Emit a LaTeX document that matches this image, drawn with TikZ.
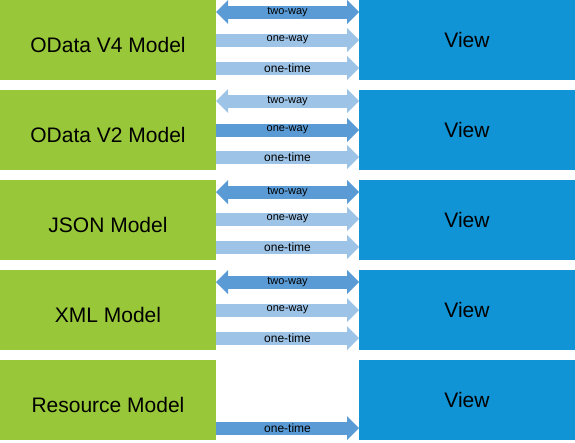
\documentclass[tikz,border=0pt]{standalone}
\usepackage{fontspec}
\setmainfont{Liberation Sans}
\usetikzlibrary{positioning, arrows.meta}

\definecolor{modelgreen}{RGB}{152,200,58}
\definecolor{viewblue}{RGB}{16,148,214}
\definecolor{binddark}{RGB}{91,155,213}
\definecolor{bindlight}{RGB}{157,195,230}

\tikzset{
  model/.style={fill=modelgreen, minimum width=216pt, minimum height=80pt, inner sep=0pt, outer sep=0pt,
    text height=25pt, text depth=0pt, font=\fontsize{21}{25}\selectfont},
  view/.style={fill=viewblue, minimum width=216pt, minimum height=80pt, inner sep=0pt, outer sep=0pt,
    font=\fontsize{21}{25}\selectfont},
  bind/.style={draw=bindlight, line width=13pt, -{Triangle[length=12pt,width=24pt,line width=0pt]}},
  both/.style={{Triangle[length=12pt,width=24pt,line width=0pt]}-{Triangle[length=12pt,width=24pt,line width=0pt]}},
  dark/.style={draw=binddark},
  lbl/.style={font=\fontsize{11}{12}\selectfont, text=black, inner sep=0pt},
  lblbig/.style={font=\fontsize{12}{13}\selectfont, text=black, inner sep=0pt}
}

\begin{document}
\begin{tikzpicture}[x=1pt, y=1pt]
\useasboundingbox (0,0) rectangle (575,-442);

% OData V4 model
\node[model] (v4) at (108,-40) {OData V4 Model};
\node[view, right=143pt of v4] (v4view) {View};
\draw[bind, both, dark] ([yshift=-12pt]v4.north east) -- ([yshift=-12pt]v4view.north west) node[lbl, midway] {two-way};
\draw[bind] ([yshift=-40pt]v4.north east) -- ([yshift=-40pt]v4view.north west) node[lbl, midway] {one-way};
\draw[bind] ([yshift=-68pt]v4.north east) -- ([yshift=-68pt]v4view.north west) node[lblbig, midway] {one-time};

% OData V2 model
\node[model, below=10pt of v4] (v2) {OData V2 Model};
\node[view, right=143pt of v2] (v2view) {View};
\draw[bind, both] ([yshift=-11pt]v2.north east) -- ([yshift=-11pt]v2view.north west) node[lbl, midway] {two-way};
\draw[bind, dark] ([yshift=-40pt]v2.north east) -- ([yshift=-40pt]v2view.north west) node[lbl, midway] {one-way};
\draw[bind] ([yshift=-67pt]v2.north east) -- ([yshift=-67pt]v2view.north west) node[lblbig, midway] {one-time};

% JSON model
\node[model, below=10pt of v2] (json) {JSON Model};
\node[view, right=143pt of json] (jsonview) {View};
\draw[bind, both, dark] ([yshift=-12pt]json.north east) -- ([yshift=-12pt]jsonview.north west) node[lbl, midway] {two-way};
\draw[bind] ([yshift=-39pt]json.north east) -- ([yshift=-39pt]jsonview.north west) node[lbl, midway] {one-way};
\draw[bind] ([yshift=-67pt]json.north east) -- ([yshift=-67pt]jsonview.north west) node[lblbig, midway] {one-time};

% XML model
\node[model, below=10pt of json] (xml) {XML Model};
\node[view, right=143pt of xml] (xmlview) {View};
\draw[bind, both, dark] ([yshift=-12pt]xml.north east) -- ([yshift=-12pt]xmlview.north west) node[lbl, midway] {two-way};
\draw[bind] ([yshift=-40pt]xml.north east) -- ([yshift=-40pt]xmlview.north west) node[lbl, midway] {one-way};
\draw[bind] ([yshift=-68pt]xml.north east) -- ([yshift=-68pt]xmlview.north west) node[lblbig, midway] {one-time};

% Resource model
\node[model, below=10pt of xml] (res) {Resource Model};
\node[view, right=143pt of res] (resview) {View};
\draw[bind, dark] ([yshift=-68pt]res.north east) -- ([yshift=-68pt]resview.north west) node[lblbig, midway] {one-time};
\end{tikzpicture}
\end{document}
